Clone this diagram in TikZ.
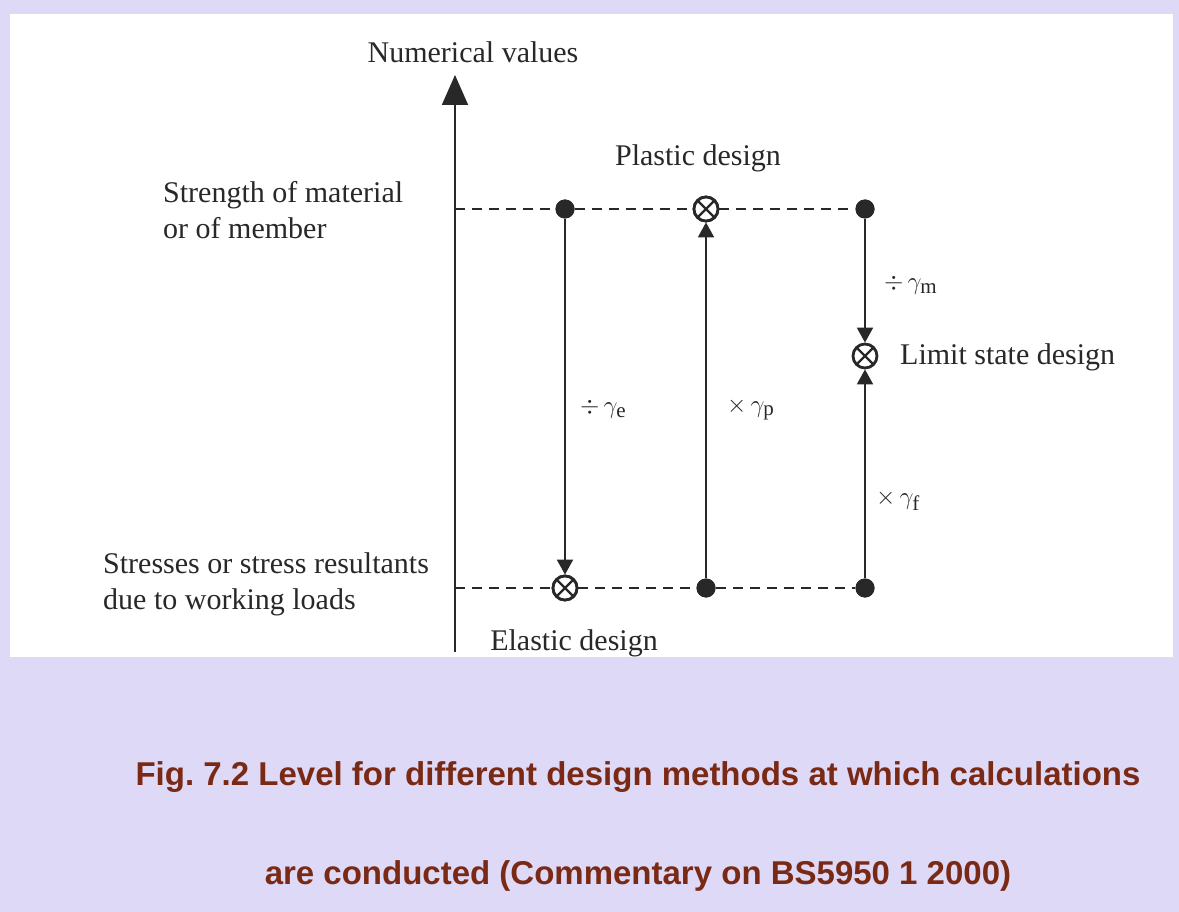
\documentclass[tikz,border=0pt]{standalone}
\usepackage{fontspec}
\setmainfont{Liberation Serif}
\newfontfamily\capfont{Liberation Sans}
\usetikzlibrary{arrows.meta}
\definecolor{bgc}{RGB}{221,217,247}
\definecolor{ink}{RGB}{40,40,40}
\definecolor{capc}{RGB}{122,42,20}
\frenchspacing
\tikzset{
  dot/.style={circle,fill=ink,inner sep=0pt,minimum size=19pt},
  ox/.style={circle,draw=ink,line width=2.8pt,fill=white,inner sep=0pt,minimum size=24pt,
    path picture={\draw[ink,line width=2.2pt]
      ([shift={(45:12pt)}]path picture bounding box.center) -- ([shift={(225:12pt)}]path picture bounding box.center)
      ([shift={(135:12pt)}]path picture bounding box.center) -- ([shift={(315:12pt)}]path picture bounding box.center);}},
  conn/.style={draw=ink,line width=1.9pt,-{Triangle[width=16pt,length=15pt]}},
  guide/.style={draw=ink,line width=1.9pt,dash pattern=on 10pt off 7pt},
  lbl/.style={text=ink,font=\fontsize{30}{36}\selectfont,inner sep=0pt},
  capstyle/.style={text=capc,font=\capfont\bfseries\fontsize{33}{38}\selectfont,inner sep=0pt}
}
\begin{document}
\begin{tikzpicture}[x=1pt,y=-1pt]
\useasboundingbox (0,0) rectangle (1179,912);
\fill[bgc] (0,0) rectangle (1179,912);
\fill[white] (10,14) rectangle (1173,657);
% axis
\coordinate (axb) at (455,652);
\coordinate (axt) at (455,75);
\coordinate (a1) at (455,209);
\coordinate (a2) at (455,588);
\draw[draw=ink,line width=1.9pt,-{Triangle[width=26pt,length=30pt]}] (axb) -- (axt);
% points
\node[dot] (t1) at (565,209) {};
\node[ox]  (t2) at (706,209) {};
\node[dot] (t3) at (865,209) {};
\node[ox]  (b1) at (565,588) {};
\node[dot] (b2) at (706,588) {};
\node[dot] (b3) at (865,588) {};
\node[ox]  (m3) at (865,356) {};
% dashed levels
\draw[guide] (a1) -- (t1) -- (t2) -- (t3);
\draw[guide] (a2) -- (b1) -- (b2) -- (b3);
\node[dot] at (t1) {};\node[dot] at (t3) {};\node[dot] at (b2) {};\node[dot] at (b3) {};
\node[ox] at (t2) {};\node[ox] at (b1) {};
% connectors
\draw[conn] (t1) -- (b1);
\draw[conn] (b2) -- (t2);
\draw[conn] (t3) -- (m3);
\draw[conn] (b3) -- (m3);
% labels
\node[lbl] (nv) at (473,52) {Numerical values};
\node[lbl] (pd) at (698,158) {Plastic design};
\node[lbl,anchor=west,align=left] (sm) at (163,210) {Strength of material\\or of member};
\node[lbl,anchor=west,align=left] (sr) at (103,584) {Stresses or stress resultants\\due to working loads};
\node[lbl] (ed) at (574,643) {Elastic design};
\node[lbl,anchor=west] (ge) at (580,409) {$\div\,\gamma_{\mathrm{e}}$};
\node[lbl,anchor=west] (gp) at (727,409) {$\times\,\gamma_{\mathrm{p}}$};
\node[lbl,anchor=west] (gm) at (884,285) {$\div\,\gamma_{\mathrm{m}}$};
\node[lbl,anchor=west] (ls) at (900,357) {Limit state design};
\node[lbl,anchor=west] (gf) at (876,500) {$\times\,\gamma_{\mathrm{f}}$};
% caption
\node[capstyle] (c1) at (638,777) {Fig. 7.2 Level for different design methods at which calculations};
\node[capstyle] (c2) at (638,876) {are conducted (Commentary on BS5950 1 2000)};
\end{tikzpicture}
\end{document}
